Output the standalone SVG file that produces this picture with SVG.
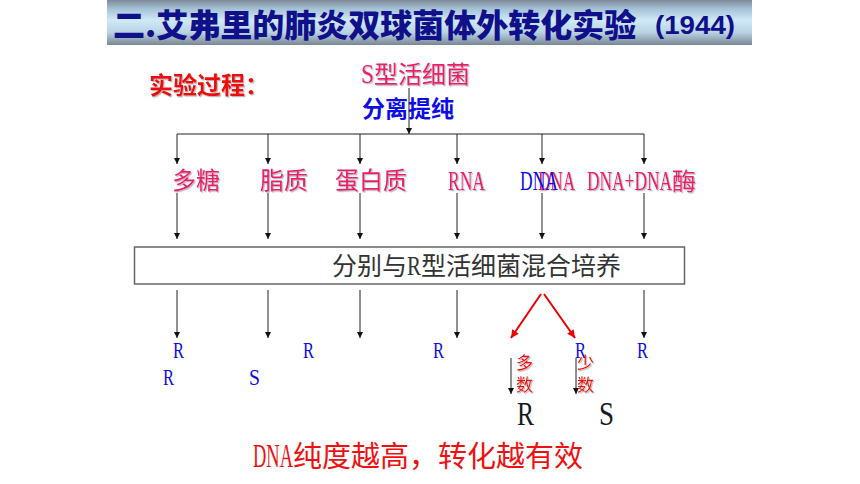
<svg xmlns="http://www.w3.org/2000/svg" width="860" height="484" viewBox="0 0 860 484">
  <defs>
    <linearGradient id="barGrad" x1="0" y1="0" x2="0" y2="1">
      <stop offset="0" stop-color="#7c8a98"/>
      <stop offset="0.2" stop-color="#a6c2d6"/>
      <stop offset="0.45" stop-color="#d0e9f7"/>
      <stop offset="0.72" stop-color="#b9d3e4"/>
      <stop offset="1" stop-color="#7a8794"/>
    </linearGradient>
    <filter id="shadow" x="-10%" y="-10%" width="130%" height="140%">
      <feDropShadow dx="1.2" dy="1.2" stdDeviation="0.6" flood-color="#888" flood-opacity="0.6"/>
    </filter>
    <marker id="arrow" viewBox="0 0 10 10" refX="10" refY="5" markerWidth="6" markerHeight="6" orient="auto" markerUnits="userSpaceOnUse">
      <path d="M0,0 L10,5 L0,10 z" fill="#111"/>
    </marker>
    <marker id="arrowRed" viewBox="0 0 10 10" refX="10" refY="5" markerWidth="9" markerHeight="8" orient="auto" markerUnits="userSpaceOnUse">
      <path d="M0,0 L10,5 L0,10 z" fill="#ee0000"/>
    </marker>
  </defs>
  <style>
    .title { font-family: "Noto Sans CJK SC", "Liberation Sans", sans-serif; font-weight: 900; fill: #10108a; }
    .year { font-family: "Liberation Sans", "Noto Sans CJK SC", sans-serif; font-weight: bold; fill: #10108a; }
    .cjk { font-family: "Liberation Serif", "Noto Sans CJK SC", serif; }
    .sans { font-family: "Noto Sans CJK SC", sans-serif; }
    .pink { fill: #ee1a6e; filter: url(#shadow); }
    .red { fill: #ee1111; }
    .blue { fill: #0d0de6; }
    .line { stroke: #222; stroke-width: 1; fill: none; }
    .arr { stroke: #222; stroke-width: 1; fill: none; marker-end: url(#arrow); }
    .rarr { stroke: #ee0000; stroke-width: 2; fill: none; marker-end: url(#arrowRed); }
  </style>

  <g id="title">
    <rect x="107" y="0" width="645" height="45" fill="url(#barGrad)"/>
    <text class="title" x="113" y="37" font-size="32">二.艾弗里的肺炎双球菌体外转化实验</text>
    <text class="year" x="655" y="34" font-size="26" textLength="80" lengthAdjust="spacingAndGlyphs">(1944)</text>
  </g>

  <g id="process-label">
    <text class="sans red" x="149" y="94" font-size="24" font-weight="bold" filter="url(#shadow)">实验过程：</text>
  </g>

  <g id="s-bacteria">
    <text class="cjk pink" x="361" y="83" font-size="24"><tspan font-size="27" textLength="13" lengthAdjust="spacingAndGlyphs">S</tspan><tspan>型活细菌</tspan></text>
  </g>
  <g id="purify">
    <text class="sans blue" x="362" y="117" font-size="23" font-weight="bold">分离提纯</text>
  </g>

  <g id="connectors">
    <line class="arr" x1="409" y1="88" x2="409" y2="134"/>
    <line class="line" x1="177" y1="134" x2="644" y2="134"/>
    <line class="arr" x1="177" y1="134" x2="177" y2="164"/>
    <line class="arr" x1="268" y1="134" x2="268" y2="164"/>
    <line class="arr" x1="360" y1="134" x2="360" y2="164"/>
    <line class="arr" x1="457" y1="134" x2="457" y2="164"/>
    <line class="arr" x1="542" y1="134" x2="542" y2="164"/>
    <line class="arr" x1="644" y1="134" x2="644" y2="164"/>

    <line class="arr" x1="177" y1="193" x2="177" y2="239"/>
    <line class="arr" x1="268" y1="193" x2="268" y2="239"/>
    <line class="arr" x1="360" y1="193" x2="360" y2="239"/>
    <line class="arr" x1="457" y1="193" x2="457" y2="239"/>
    <line class="arr" x1="542" y1="193" x2="542" y2="239"/>
    <line class="arr" x1="644" y1="193" x2="644" y2="239"/>

    <line class="arr" x1="177" y1="290" x2="177" y2="338"/>
    <line class="arr" x1="268" y1="290" x2="268" y2="338"/>
    <line class="arr" x1="360" y1="290" x2="360" y2="338"/>
    <line class="arr" x1="457" y1="290" x2="457" y2="338"/>
    <line class="arr" x1="644" y1="290" x2="644" y2="338"/>

    <line class="rarr" x1="541" y1="294" x2="511" y2="338"/>
    <line class="rarr" x1="544" y1="294" x2="575" y2="338"/>

    <line class="arr" x1="511" y1="358" x2="511" y2="394"/>
    <line class="arr" x1="576" y1="358" x2="576" y2="394"/>
  </g>

  <g id="polysaccharide">
    <text class="cjk pink" x="172" y="189" font-size="24">多糖</text>
  </g>
  <g id="lipid">
    <text class="cjk pink" x="260" y="189" font-size="24">脂质</text>
  </g>
  <g id="protein">
    <text class="cjk pink" x="335" y="189" font-size="24">蛋白质</text>
  </g>
  <g id="rna">
    <text class="cjk pink" x="448" y="190" font-size="28" textLength="37" lengthAdjust="spacingAndGlyphs">RNA</text>
  </g>
  <g id="dna">
    <text class="cjk pink" x="538" y="190" font-size="28" textLength="37" lengthAdjust="spacingAndGlyphs">DNA</text>
    <text class="cjk blue" x="520" y="190" font-size="28" textLength="38" lengthAdjust="spacingAndGlyphs">DNA</text>
  </g>
  <g id="dna-dnase">
    <text class="cjk pink" x="587" y="190" font-size="24"><tspan font-size="28" textLength="85" lengthAdjust="spacingAndGlyphs">DNA+DNA</tspan><tspan>酶</tspan></text>
  </g>

  <g id="mix-box">
    <rect x="134.5" y="247" width="550" height="37" fill="#fff" stroke="#666" stroke-width="1.5"/>
    <text class="cjk" x="332" y="275" font-size="25" fill="#333">分别与<tspan font-size="28" textLength="14" lengthAdjust="spacingAndGlyphs">R</tspan>型活细菌混合培养</text>
  </g>

  <g id="results">
    <text class="cjk blue" x="173" y="358" font-size="23" textLength="11" lengthAdjust="spacingAndGlyphs">R</text>
    <text class="cjk blue" x="163" y="385" font-size="23" textLength="11" lengthAdjust="spacingAndGlyphs">R</text>
    <text class="cjk blue" x="249" y="385" font-size="23" textLength="11" lengthAdjust="spacingAndGlyphs">S</text>
    <text class="cjk blue" x="303" y="358" font-size="23" textLength="11" lengthAdjust="spacingAndGlyphs">R</text>
    <text class="cjk blue" x="433" y="358" font-size="23" textLength="11" lengthAdjust="spacingAndGlyphs">R</text>
    <text class="cjk blue" x="575" y="358" font-size="23" textLength="11" lengthAdjust="spacingAndGlyphs">R</text>
    <text class="cjk blue" x="637" y="358" font-size="23" textLength="11" lengthAdjust="spacingAndGlyphs">R</text>
  </g>

  <g id="majority">
    <text class="sans red" x="516" y="369" font-size="17" filter="url(#shadow)">多</text>
    <text class="sans red" x="516" y="391" font-size="17" filter="url(#shadow)">数</text>
  </g>
  <g id="minority">
    <text class="sans red" x="577" y="369" font-size="17" filter="url(#shadow)">少</text>
    <text class="sans red" x="577" y="391" font-size="17" filter="url(#shadow)">数</text>
  </g>
  <g id="result-r">
    <text class="cjk" x="517" y="425" font-size="33" fill="#151a22" textLength="17" lengthAdjust="spacingAndGlyphs">R</text>
  </g>
  <g id="result-s">
    <text class="cjk" x="599" y="425" font-size="33" fill="#151a22" textLength="15" lengthAdjust="spacingAndGlyphs">S</text>
  </g>

  <g id="conclusion">
    <text class="cjk red" x="253" y="467" font-size="29"><tspan font-size="33" textLength="40" lengthAdjust="spacingAndGlyphs">DNA</tspan><tspan>纯度越高，转化越有效</tspan></text>
  </g>
</svg>
